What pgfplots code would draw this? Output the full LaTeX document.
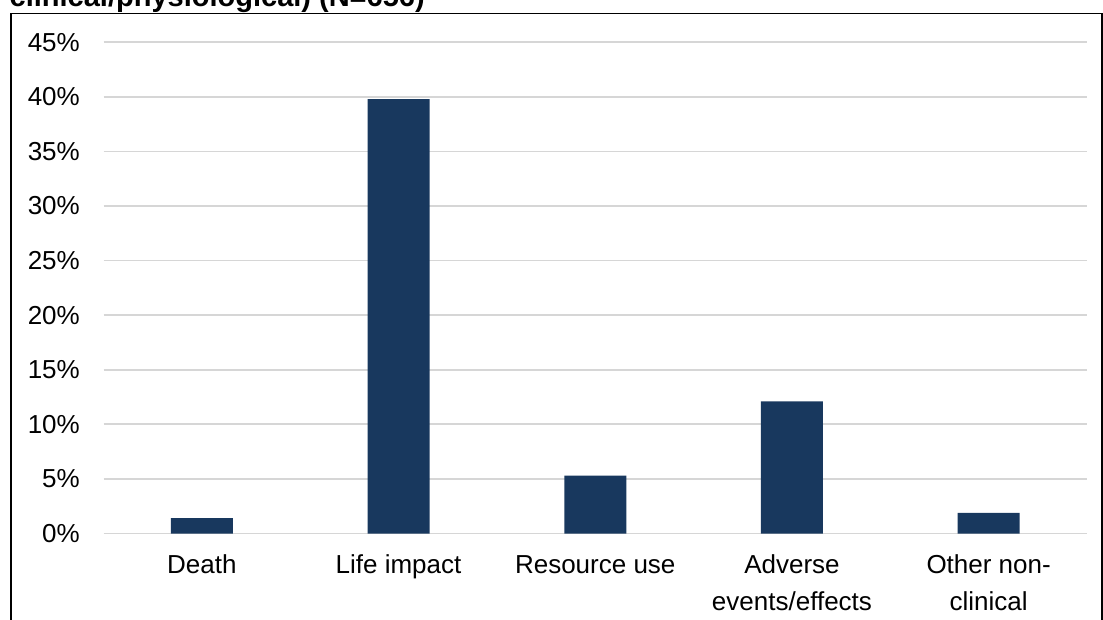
\documentclass[border=0pt]{standalone}
\usepackage{pgfplots}
\pgfplotsset{compat=1.18}
\usepackage{fontspec}
\setmainfont{Liberation Sans}
\definecolor{barblue}{RGB}{24,56,94}
\definecolor{gridgray}{RGB}{214,214,214}
\begin{document}
\begin{tikzpicture}
\path[use as bounding box] (0pt,0pt) rectangle (1103pt,619pt);
\node[anchor=base west, inner sep=0pt, font={\fontsize{29}{34}\selectfont\bfseries}] at (9.5pt,612.5pt) {clinical/physiological) (N=656)};
\draw[black, line width=1.6pt] (11pt,-20pt) -- (11pt,605.5pt) -- (1101.7pt,605.5pt) -- (1101.7pt,-20pt);
\begin{axis}[
  at={(103.5pt,85.5pt)}, anchor=south west,
  scale only axis, width=983.5pt, height=491.2pt,
  xmin=-0.5, xmax=4.5, ymin=0, ymax=45,
  axis line style={draw=none},
  tick style={draw=none},
  ymajorgrids, grid style={gridgray, line width=1.7pt},
  ytick={0,5,10,15,20,25,30,35,40,45},
  yticklabels={0\%,5\%,10\%,15\%,20\%,25\%,30\%,35\%,40\%,45\%},
  yticklabel style={anchor=east, inner sep=0pt, xshift=-23.5pt, font={\fontsize{26}{30}\selectfont}},
  xtick={0,1,2,3,4},
  xticklabels={\rule{0pt}{26pt}Death, \rule{0pt}{26pt}Life impact, \rule{0pt}{26pt}Resource use, {\rule{0pt}{26pt}Adverse\\events/effects}, {\rule{0pt}{26pt}Other non-\\clinical}},
  xticklabel style={anchor=north, inner sep=0pt, yshift=-14pt, align=center, font={\fontsize{26}{37}\selectfont}},
]
\addplot[ybar, bar width=62pt, fill=barblue, draw=none] coordinates {
  (0,1.4) (1,39.8) (2,5.3) (3,12.1) (4,1.9)
};
\end{axis}
\end{tikzpicture}
\end{document}
